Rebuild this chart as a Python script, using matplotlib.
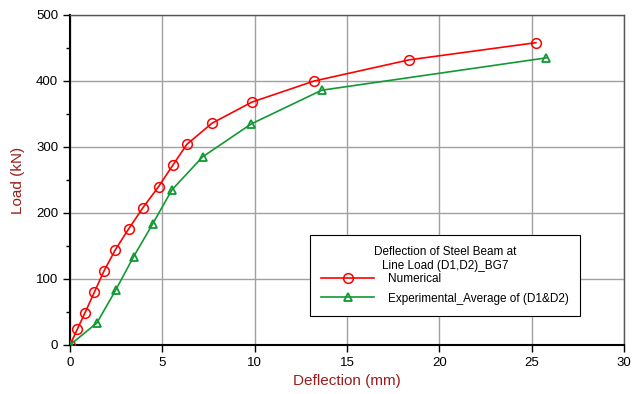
import matplotlib.pyplot as plt
from matplotlib.ticker import MultipleLocator

plt.rcParams['font.family'] = ['Liberation Sans', 'DejaVu Sans']

# Numerical
num_x = [0, 0.4, 0.8, 1.32, 1.84, 2.45, 3.18, 3.95, 4.8, 5.56, 6.33, 7.69, 9.85, 13.23, 18.37, 25.23]
num_y = [0, 24, 48, 80, 112, 144, 176, 208, 240, 272, 304, 336, 368, 400, 432, 458]

# Experimental average of D1 & D2
exp_x = [0, 1.46, 2.49, 3.45, 4.49, 5.52, 7.18, 9.82, 13.63, 25.79]
exp_y = [0, 33.5, 84, 134, 184, 235, 285, 335, 386, 435]

label_red = '#9b1c1c'

fig = plt.figure(figsize=(6.39, 3.94), dpi=100)
ax = fig.add_axes([0.1095, 0.1244, 0.867, 0.8376])

ax.plot(num_x, num_y, color='#ff0000', lw=1.2, marker='o', ms=7,
        mfc='none', mec='#ff0000', mew=1.1, label='Numerical', zorder=3)
ax.plot(exp_x, exp_y, color='#119933', lw=1.2, marker='^', ms=5.5,
        mfc='none', mec='#119933', mew=1.3,
        label='Experimental_Average of (D1&D2)', zorder=3)

ax.set_xlim(0, 30)
ax.set_ylim(0, 500)
ax.xaxis.set_major_locator(MultipleLocator(5))
ax.yaxis.set_major_locator(MultipleLocator(100))
ax.yaxis.set_minor_locator(MultipleLocator(50))
ax.grid(True, which='major', color='#a0a0a0', lw=1.0)
ax.set_axisbelow(True)

for s in ['top', 'right']:
    ax.spines[s].set_color('#555555')
    ax.spines[s].set_linewidth(1.0)
for s in ['left', 'bottom']:
    ax.spines[s].set_color('black')
    ax.spines[s].set_linewidth(1.5)

ax.tick_params(axis='both', which='major', direction='out', length=5,
               width=1.0, labelsize=9.5, colors='black')
ax.tick_params(axis='y', which='minor', direction='out', length=3, width=1.0)

ax.set_xlabel('Deflection (mm)', color=label_red, fontsize=11, labelpad=4)
ax.set_ylabel('Load (kN)', color=label_red, fontsize=11, labelpad=8)

leg = ax.legend(title='Deflection of Steel Beam at\nLine Load (D1,D2)_BG7',
                loc='upper left', bbox_to_anchor=(0.433, 0.333), fontsize=8.5,
                title_fontsize=8.5, fancybox=False, framealpha=1,
                edgecolor='black', borderpad=0.95, borderaxespad=0,
                handlelength=4.5, labelspacing=0.6, handletextpad=1.2)
leg.get_title().set_multialignment('center')
leg._legend_box.sep = 1
leg.get_frame().set_linewidth(0.8)

fig.savefig('out.png', dpi=100)
